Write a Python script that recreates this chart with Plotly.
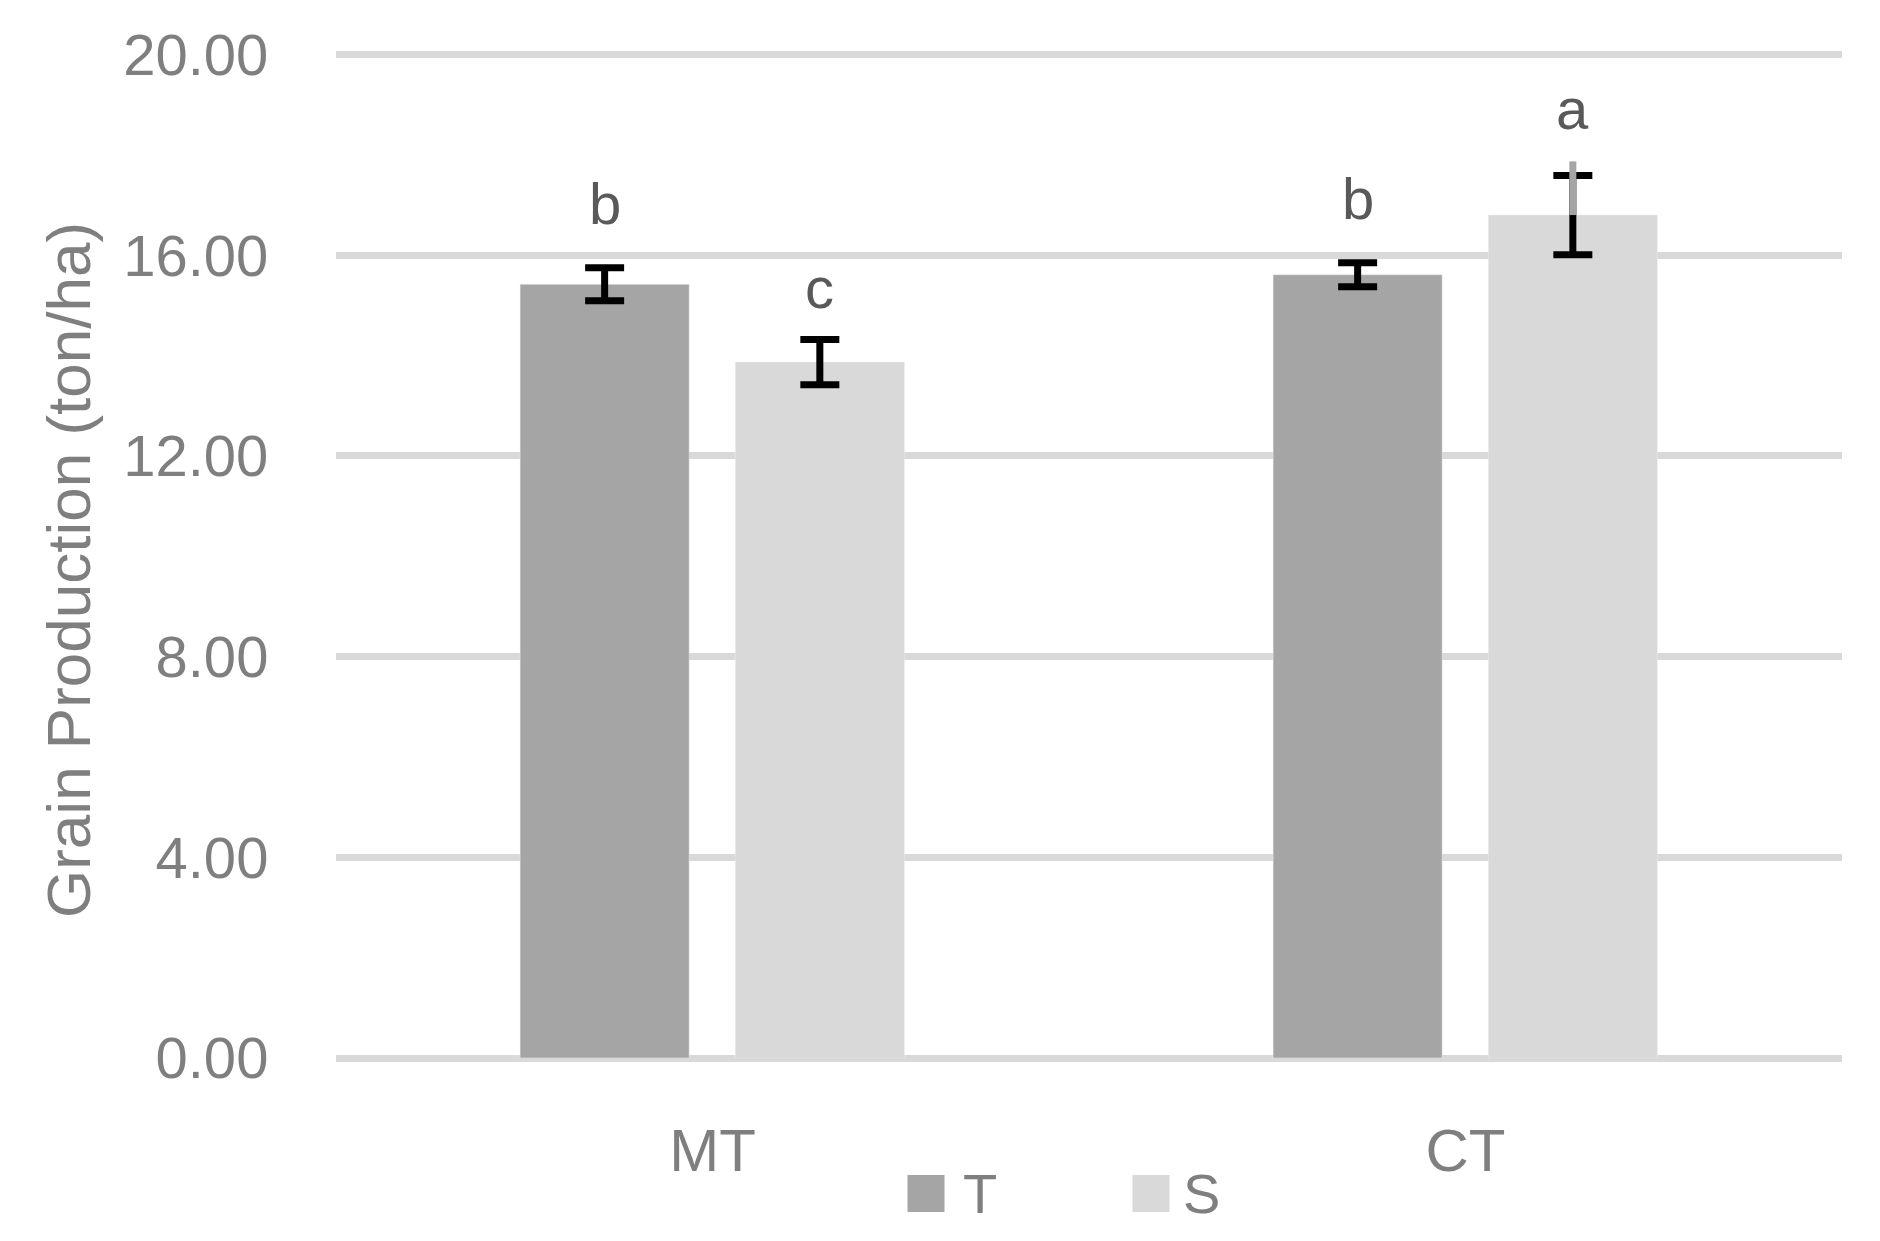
import plotly.graph_objects as go

# ---- data ----
categories = ["MT", "CT"]
series_names = ["T", "S"]
T_values = [15.42, 15.61]
S_values = [13.87, 16.80]
T_err = [0.33, 0.24]
S_err = [0.45, 0.79]
S_extra_upper = [None, 1.07]   # grey whisker above CT-S bar
T_letters = ["b", "b"]
S_letters = ["c", "a"]
y_ticks = [0, 4, 8, 12, 16, 20]
y_ticktext = ["0.00", "4.00", "8.00", "12.00", "16.00", "20.00"]

# ---- styles ----
T_color = "#A5A5A5"
S_color = "#D9D9D9"
grid_color = "#D9D9D9"
text_gray = "#7F7F7F"
letter_gray = "#595959"
FONT = "Liberation Sans"
T_letter_shift = [30, 30]
S_letter_shift = [18, 18]

bar_w = 0.2245
T_off = -0.2555
S_off = 0.0303

xs = list(range(len(categories)))

fig = go.Figure()
fig.add_trace(go.Bar(
    x=xs, y=T_values, name=series_names[0], marker_color=T_color,
    width=bar_w, offset=T_off, showlegend=False,
    error_y=dict(type="data", array=T_err, color="black", thickness=7, width=19.5),
))
fig.add_trace(go.Bar(
    x=xs, y=S_values, name=series_names[1], marker_color=S_color,
    width=bar_w, offset=S_off, showlegend=False,
    error_y=dict(type="data", array=S_err, color="black", thickness=7, width=19.5),
))

# grey whisker
for i, ex in enumerate(S_extra_upper):
    if ex is None:
        continue
    xc = xs[i] + S_off + bar_w / 2
    fig.add_trace(go.Scatter(
        x=[xc, xc], y=[S_values[i], S_values[i] + ex], mode="lines",
        line=dict(color="#A5A5A5", width=7), showlegend=False, hoverinfo="skip",
    ))

# letters
for i in xs:
    for vals, errs, letters, off, shifts in ((T_values, T_err, T_letters, T_off, T_letter_shift),
                                             (S_values, S_err, S_letters, S_off, S_letter_shift)):
        top = vals[i] + errs[i]
        if letters is S_letters and S_extra_upper[i] is not None:
            top = vals[i] + S_extra_upper[i]
        fig.add_annotation(
            x=xs[i] + off + bar_w / 2, y=top, xref="x", yref="y",
            text=letters[i], showarrow=False, yanchor="bottom", yshift=shifts[i],
            font=dict(family=FONT, size=58, color=letter_gray),
        )

# plot area (page coords): x 336..1842, y 53..1058 ; page has 8px body margin
PL, PR, PT, PB = 336, 1842, 53, 1058
PW, PH = PR - PL, PB - PT

# axis title
fig.add_annotation(
    x=(68 - PL) / PW, y=(PB - 570) / PH, xref="paper", yref="paper", textangle=-90,
    text="Grain Production (ton/ha)", showarrow=False,
    xanchor="center", yanchor="middle",
    font=dict(family=FONT, size=62, color=text_gray),
)

# manual legend
legend_items = [(series_names[0], T_color, 926, 35), (series_names[1], S_color, 1151, 30)]
for name, col, px, tx in legend_items:
    fig.add_shape(type="rect", xref="paper", yref="paper",
                  x0=(px - 18.5 - PL) / PW, x1=(px + 18.5 - PL) / PW,
                  y0=(PB - 1212) / PH, y1=(PB - 1175) / PH,
                  fillcolor=col, line=dict(width=0))
    fig.add_annotation(x=(px + tx - PL) / PW, y=(PB - 1193) / PH,
                       xref="paper", yref="paper", text=name, showarrow=False,
                       xanchor="left", yanchor="middle",
                       font=dict(family=FONT, size=56, color=text_gray))

fig.update_layout(
    width=1880, height=1241,
    margin=dict(l=PL - 8, r=1880 - PR + 8, t=PT - 8, b=1241 - PB + 8),
    paper_bgcolor="white", plot_bgcolor="white",
    barmode="overlay",
    font=dict(family=FONT, color=text_gray),
)
fig.update_xaxes(
    range=[-0.5, 1.5], tickvals=xs, ticktext=categories,
    showgrid=False, zeroline=False, showline=False,
    ticks="outside", ticklen=40, tickcolor="rgba(0,0,0,0)",
    tickfont=dict(family=FONT, size=60, color=text_gray),
)
fig.update_yaxes(
    range=[0, 20.03], tickvals=y_ticks, ticktext=y_ticktext,
    showgrid=True, gridcolor=grid_color, gridwidth=7,
    zeroline=True, zerolinecolor=grid_color, zerolinewidth=7,
    showline=False, ticks="outside", ticklen=55, tickcolor="rgba(0,0,0,0)",
    tickfont=dict(family=FONT, size=58, color=text_gray),
)

fig.write_html("out.html")
